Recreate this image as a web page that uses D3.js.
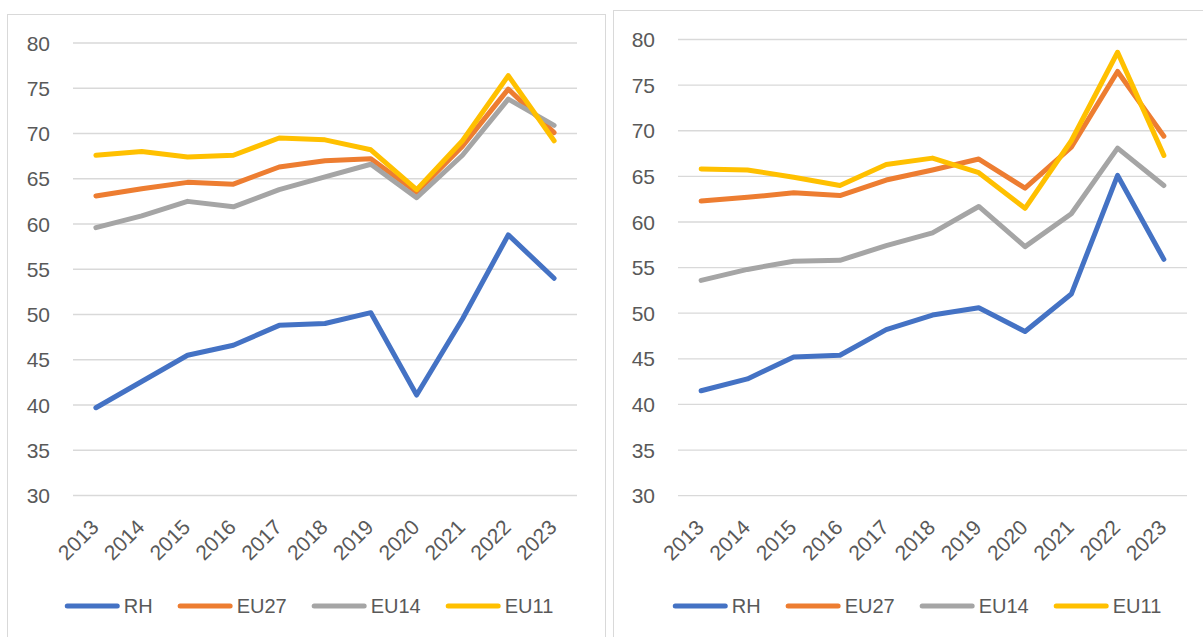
<!DOCTYPE html>
<html>
<head>
<meta charset="utf-8">
<script src="https://cdn.jsdelivr.net/npm/d3@7"></script>
<style>
  body { margin: 0; background: #fff; }
  svg text { font-family: "Liberation Sans", Arial, sans-serif; fill: #595959; }
</style>
</head>
<body>
<div id="main"></div>
<script>
// categories and tick values
const years = ["2013","2014","2015","2016","2017","2018","2019","2020","2021","2022","2023"];
const yTicks = [30, 35, 40, 45, 50, 55, 60, 65, 70, 75, 80];
const seriesNames = ["RH", "EU27", "EU14", "EU11"];

// left chart values
const leftRH   = [39.7, 42.6, 45.5, 46.6, 48.8, 49.0, 50.2, 41.1, 49.5, 58.8, 54.0];
const leftEU27 = [63.1, 63.9, 64.6, 64.4, 66.3, 67.0, 67.2, 63.5, 68.6, 74.9, 70.1];
const leftEU14 = [59.6, 60.9, 62.5, 61.9, 63.8, 65.2, 66.6, 62.9, 67.6, 73.8, 70.9];
const leftEU11 = [67.6, 68.0, 67.4, 67.6, 69.5, 69.3, 68.2, 63.8, 69.2, 76.4, 69.2];

// right chart values
const rightRH   = [41.5, 42.8, 45.2, 45.4, 48.2, 49.8, 50.6, 48.0, 52.1, 65.1, 55.9];
const rightEU27 = [62.3, 62.7, 63.2, 62.9, 64.6, 65.7, 66.9, 63.7, 68.2, 76.5, 69.4];
const rightEU14 = [53.6, 54.8, 55.7, 55.8, 57.4, 58.8, 61.7, 57.3, 60.9, 68.1, 64.0];
const rightEU11 = [65.8, 65.7, 64.9, 64.0, 66.3, 67.0, 65.4, 61.5, 68.9, 78.6, 67.3];

const colors = ["#4472C4", "#ED7D31", "#A5A5A5", "#FFC000"];

const ctx = { width: 1203, height: 637 };

const panels = [
  { box: [7.5, 14.5, 598, 700], plot: [73, 43, 577, 495.5], legendCx: 309, data: [leftRH, leftEU27, leftEU14, leftEU11] },
  { box: [613.5, 10.5, 620, 700], plot: [678, 39.5, 1187, 495.7], legendCx: 917, data: [rightRH, rightEU27, rightEU14, rightEU11] }
];

let svg = d3.select("#main").append("svg")
  .attr("width", ctx.width)
  .attr("height", ctx.height);

panels.forEach(function(p) { drawPanel(p); });

function drawPanel(p) {
  let g = svg.append("g");

  // chart frame
  g.append("rect")
    .attr("x", p.box[0]).attr("y", p.box[1])
    .attr("width", p.box[2]).attr("height", p.box[3])
    .attr("fill", "none")
    .attr("stroke", "#D9D9D9")
    .attr("stroke-width", 1);

  let x = d3.scaleBand().domain(years).range([p.plot[0], p.plot[2]]);
  let y = d3.scaleLinear().domain([30, 80]).range([p.plot[3], p.plot[1]]);

  // gridlines
  g.selectAll(".grid").data(yTicks).enter().append("line")
    .attr("x1", p.plot[0]).attr("x2", p.plot[2])
    .attr("y1", d => y(d)).attr("y2", d => y(d))
    .attr("stroke", "#D9D9D9")
    .attr("stroke-width", 1.3);

  // y labels
  g.selectAll(".ylab").data(yTicks).enter().append("text")
    .attr("x", p.plot[0] - 23)
    .attr("y", d => y(d))
    .attr("dy", "0.36em")
    .attr("text-anchor", "end")
    .attr("font-size", 21)
    .text(d => d);

  // x labels, rotated
  g.selectAll(".xlab").data(years).enter().append("text")
    .attr("transform", d => "translate(" + (x(d) + x.bandwidth() / 2 + 4) + "," + (p.plot[3] + 33) + ") rotate(-45)")
    .attr("text-anchor", "end")
    .attr("font-size", 21)
    .text(d => d);

  // lines
  let line = d3.line()
    .x((d, i) => x(years[i]) + x.bandwidth() / 2)
    .y(d => y(d));

  p.data.forEach(function(values, k) {
    g.append("path")
      .datum(values)
      .attr("d", line)
      .attr("fill", "none")
      .attr("stroke", colors[k])
      .attr("stroke-width", 5)
      .attr("stroke-linejoin", "round")
      .attr("stroke-linecap", "round");
  });

  // legend
  let legY = 606;
  let leg = g.append("g");
  let items = leg.selectAll("g").data(seriesNames).enter().append("g");
  items.append("line")
    .attr("x1", 2.5).attr("x2", 52.5)
    .attr("y1", legY).attr("y2", legY)
    .attr("stroke", (d, i) => colors[i])
    .attr("stroke-width", 5)
    .attr("stroke-linecap", "round");
  items.append("text")
    .attr("x", 59)
    .attr("y", legY)
    .attr("dy", "0.36em")
    .attr("font-size", 20)
    .text(d => d);

  let pos = 0;
  let offsets = [];
  items.each(function() {
    offsets.push(pos);
    let w = d3.select(this).select("text").node().getComputedTextLength();
    pos += 59 + w + 25;
  });
  let total = pos - 25;
  let start = p.legendCx - total / 2;
  items.attr("transform", (d, i) => "translate(" + (start + offsets[i]) + ",0)");
}
</script>
</body>
</html>
